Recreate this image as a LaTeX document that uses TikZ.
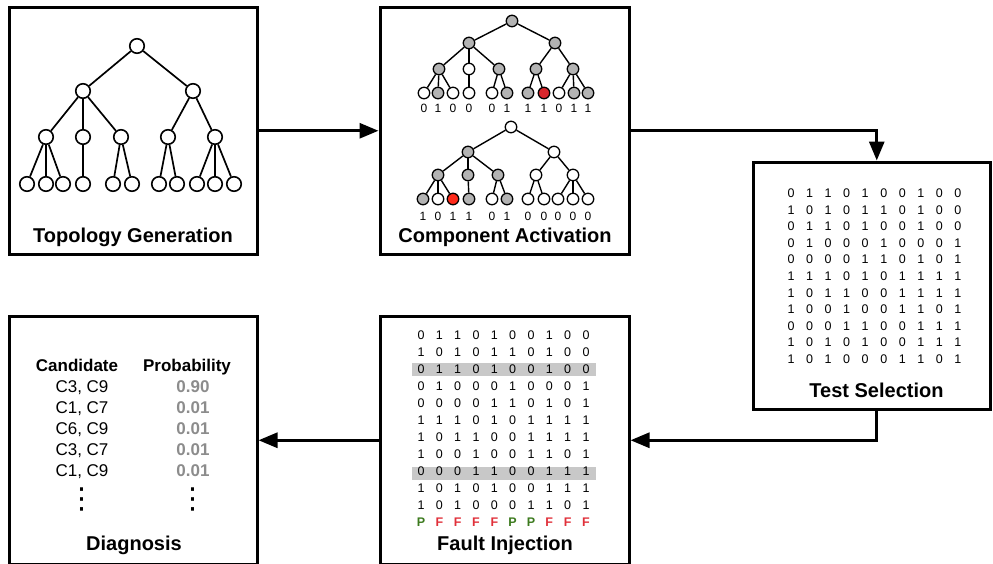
\documentclass[tikz,border=0pt]{standalone}
\usepackage{fontspec}
\setmainfont{Liberation Sans}
\newfontfamily\djv{DejaVu Sans}
\usetikzlibrary{arrows.meta}
\definecolor{gfill}{HTML}{B3B3B3}
\definecolor{redA}{HTML}{D9262C}
\definecolor{redB}{HTML}{FF2A1A}
\definecolor{barg}{HTML}{C8C8C8}
\definecolor{probg}{HTML}{8C8C8C}
\definecolor{passg}{HTML}{3C7A1E}
\definecolor{failr}{HTML}{E0303A}
\tikzset{
  panel/.style={draw, line width=3pt, inner sep=0pt},
  flow/.style={line width=3pt, -{Triangle[length=19pt,width=15pt]}},
  title/.style={font=\fontsize{20}{24}\bfseries\selectfont, anchor=base, inner sep=0pt},
  tn/.style={circle, draw, line width=1.6pt, minimum size=14.5pt, inner sep=0pt, fill=white},
  tedge/.style={line width=1.7pt},
  an/.style={circle, draw, line width=1.3pt, minimum size=11.5pt, inner sep=0pt, fill=#1},
  aedge/.style={line width=1.4pt},
  lab/.style={font=\fontsize{12}{14}\selectfont, inner sep=0pt, text height=8.6pt, text depth=0pt},
  dig/.style={font=\fontsize{12.5}{14}\selectfont, inner sep=0pt, text height=9pt, text depth=0pt},
  pf/.style={font=\fontsize{12.5}{14}\bfseries\selectfont, inner sep=0pt, text height=9pt, text depth=0pt},
  dtxt/.style={font=\fontsize{17}{20}\selectfont, inner sep=0pt, text height=12.2pt, text depth=0pt},
  dhead/.style={font=\fontsize{17}{20}\bfseries\selectfont, inner sep=0pt, text height=12.2pt, text depth=0pt},
  dprob/.style={font=\fontsize{17}{20}\bfseries\selectfont, text=probg, inner sep=0pt, text height=12.2pt, text depth=0pt},
  vdots/.style={font=\djv\fontsize{29}{32}\selectfont, inner sep=0pt, anchor=base}
}
\begin{document}
\begin{tikzpicture}[x=1pt,y=-1pt]
\useasboundingbox (0,0) rectangle (993,563);

% ---------- panels ----------
\node[panel, minimum width=247.5pt, minimum height=246.5pt] (topo) at (133.25,130.75) {};
\node[panel, minimum width=249pt, minimum height=246.5pt] (comp) at (504.5,130.75) {};
\node[panel, minimum width=237.5pt, minimum height=247pt] (test) at (871.75,285.5) {};
\node[panel, minimum width=249pt, minimum height=248.5pt] (fault) at (504.5,440.25) {};
\node[panel, minimum width=247.5pt, minimum height=248.5pt] (diag) at (133.25,440.25) {};

% ---------- connectors ----------
\draw[flow] (topo.east) -- (comp.west);
\draw[flow] (comp.east) -| ([xshift=5pt]test.north);
\draw[flow] ([xshift=5pt]test.south) |- (fault.east);
\draw[flow] (fault.west) -- (diag.east);

% ---------- titles ----------
\node[title] (ttopo) at (133,242) {Topology Generation};
\node[title] (tcomp) at (505,242) {Component Activation};
\node[title] (ttest) at (876.5,397) {Test Selection};
\node[title] (tfault) at (505,550) {Fault Injection};
\node[title] (tdiag) at (134,550) {Diagnosis};

% ---------- topology tree ----------
\foreach \n/\x/\y in {t0/137/46, t1/83/91, t2/193/91, a/46/137, b/83/137, c/121/137, d/168/137, e/215/137,
  l1/27/184, l2/46/184, l3/63/184, l4/83/184, l5/113/184, l6/132/184, l7/159/184, l8/177/184, l9/197/184, l10/215/184, l11/234/184}
  \node[tn] (tg-\n) at (\x,\y) {};
\foreach \p/\c in {t0/t1, t0/t2, t1/a, t1/b, t1/c, t2/d, t2/e, a/l1, a/l2, a/l3, b/l4, c/l5, c/l6, d/l7, d/l8, e/l9, e/l10, e/l11}
  \draw[tedge] (tg-\p) -- (tg-\c);

% ---------- activation tree (upper) ----------
\foreach \n/\x/\y/\f in {r/512/21/gfill, p1/469/43/gfill, p2/555/43/gfill,
  a/439/69/gfill, b/469/69/white, c/499/69/gfill, d/536/69/gfill, e/573/69/gfill,
  l1/424/93/white, l2/438/93/gfill, l3/453/93/white, l4/469/93/white, l5/492/93/white, l6/507/93/gfill,
  l7/528/93/gfill, l8/544/93/redA, l9/559/93/white, l10/574/93/gfill, l11/588/93/gfill}
  \node[an=\f] (ua-\n) at (\x,\y) {};
\foreach \p/\c in {r/p1, r/p2, p1/a, p1/b, p1/c, p2/d, p2/e, a/l1, a/l2, a/l3, b/l4, c/l5, c/l6, d/l7, d/l8, e/l9, e/l10, e/l11}
  \draw[aedge] (ua-\p) -- (ua-\c);
\foreach \x/\v [count=\i] in {424/0, 438/1, 453/0, 469/0, 492/0, 507/1, 528/1, 544/1, 559/0, 574/1, 588/1}
  \node[lab] (ul-\i) at (\x,108) {\v};

% ---------- activation tree (lower) ----------
\foreach \n/\x/\y/\f in {r/511/127/white, p1/468/152/gfill, p2/554/152/white,
  a/438/175/gfill, b/468/175/gfill, c/498/175/gfill, d/536/175/white, e/573/175/white,
  l1/423/199/gfill, l2/438/199/white, l3/453/199/redB, l4/469/199/gfill, l5/492/199/white, l6/507/199/gfill,
  l7/528/199/white, l8/544/199/white, l9/558/199/white, l10/573/199/white, l11/588/199/white}
  \node[an=\f] (la-\n) at (\x,\y) {};
\foreach \p/\c in {r/p1, r/p2, p1/a, p1/b, p1/c, p2/d, p2/e, a/l1, a/l2, a/l3, b/l4, c/l5, c/l6, d/l7, d/l8, e/l9, e/l10, e/l11}
  \draw[aedge] (la-\p) -- (la-\c);
\foreach \x/\v [count=\i] in {423/1, 438/0, 453/1, 469/1, 492/0, 507/1, 528/0, 544/0, 558/0, 573/0, 588/0}
  \node[lab] (ll-\i) at (\x,216) {\v};

% ---------- test selection matrix ----------
\foreach \row [count=\r] in {{0,1,1,0,1,0,0,1,0,0},{1,0,1,0,1,1,0,1,0,0},{0,1,1,0,1,0,0,1,0,0},
  {0,1,0,0,0,1,0,0,0,1},{0,0,0,0,1,1,0,1,0,1},{1,1,1,0,1,0,1,1,1,1},{1,0,1,1,0,0,1,1,1,1},
  {1,0,0,1,0,0,1,1,0,1},{0,0,0,1,1,0,0,1,1,1},{1,0,1,0,1,0,0,1,1,1},{1,0,1,0,0,0,1,1,0,1}}
  \foreach \v [count=\c] in \row
    \node[dig] (ts-\r-\c) at ({791+(\c-1)*18.55},{193+(\r-1)*16.6}) {\v};

% ---------- fault injection matrix ----------
\fill[barg] (412,362.5) rectangle (596,376);
\fill[barg] (412,466.5) rectangle (596,480);
\foreach \row [count=\r] in {{0,1,1,0,1,0,0,1,0,0},{1,0,1,0,1,1,0,1,0,0},{0,1,1,0,1,0,0,1,0,0},
  {0,1,0,0,0,1,0,0,0,1},{0,0,0,0,1,1,0,1,0,1},{1,1,1,0,1,0,1,1,1,1},{1,0,1,1,0,0,1,1,1,1},
  {1,0,0,1,0,0,1,1,0,1},{0,0,0,1,1,0,0,1,1,1},{1,0,1,0,1,0,0,1,1,1},{1,0,1,0,0,0,1,1,0,1}}
  \foreach \v [count=\c] in \row
    \node[dig] (fi-\r-\c) at ({421+(\c-1)*18.33},{335+(\r-1)*17}) {\v};
\foreach \v/\col [count=\c] in {P/passg, F/failr, F/failr, F/failr, F/failr, P/passg, P/passg, F/failr, F/failr, F/failr}
  \node[pf, text=\col] (pf-\c) at ({421+(\c-1)*18.33},522) {\v};

% ---------- diagnosis ----------
\node[dhead] (hcand) at (77,365) {Candidate};
\node[dhead] (hprob) at (187,365) {Probability};
\node[dtxt] (c1) at (82,386) {C3, C9};
\node[dtxt] (c2) at (82,407) {C1, C7};
\node[dtxt] (c3) at (82,428) {C6, C9};
\node[dtxt] (c4) at (82,449) {C3, C7};
\node[dtxt] (c5) at (82,470) {C1, C9};
\node[dprob] (p1) at (193,386) {0.90};
\node[dprob] (p2) at (193,407) {0.01};
\node[dprob] (p3) at (193,428) {0.01};
\node[dprob] (p4) at (193,449) {0.01};
\node[dprob] (p5) at (193,470) {0.01};
\node[vdots] (vd1) at (82,508) {⋮};
\node[vdots] (vd2) at (193,508) {⋮};
\end{tikzpicture}
\end{document}
